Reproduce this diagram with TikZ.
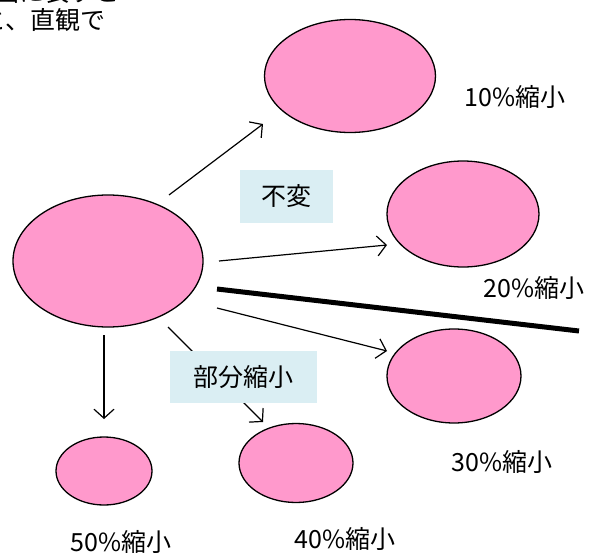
\documentclass[tikz,border=0pt]{standalone}
\usepackage{fontspec}
\setmainfont{Noto Sans CJK JP}
\usetikzlibrary{shapes.geometric,arrows.meta}
\definecolor{pinkfill}{HTML}{FF99CC}
\definecolor{boxfill}{HTML}{DAEEF3}
\tikzset{
  blob/.style={ellipse,draw=black,line width=1.3pt,fill=pinkfill,inner sep=0pt},
  lbl/.style={font=\fontsize{25}{29}\selectfont,inner sep=0pt},
  tagbox/.style={fill=boxfill,font=\fontsize{25}{29}\selectfont,inner sep=0pt},
  conn/.style={line width=1.2pt,-{Straight Barb[length=9pt,width=20pt,line width=1.2pt]}},
}
\begin{document}
\begin{tikzpicture}[x=1pt,y=-1pt]
\useasboundingbox (0,0) rectangle (603,554);
\clip (0,0) rectangle (603,554);
% partial text top-left
\node[lbl,anchor=east] (t1) at (120,-8) {図に表すと};
\node[lbl,anchor=east] (t2) at (106,20) {と、直観で};
% ellipses
\node[blob,minimum width=190pt,minimum height=132pt] (big) at (108,261) {};
\node[blob,minimum width=171pt,minimum height=113pt] (e10) at (350,76) {};
\node[blob,minimum width=152pt,minimum height=106pt] (e20) at (463,214) {};
\node[blob,minimum width=134pt,minimum height=94pt] (e30) at (454,376) {};
\node[blob,minimum width=114pt,minimum height=79pt] (e40) at (296,463) {};
\node[blob,minimum width=96pt,minimum height=68pt] (e50) at (104,471) {};
% arrow endpoints
\coordinate (s10) at (169,195); \coordinate (d10) at (263,124);
\coordinate (s20) at (219,261); \coordinate (d20) at (387,245);
\coordinate (s30) at (217,308); \coordinate (d30) at (387,351);
\coordinate (s40) at (168,327); \coordinate (d40) at (263,422);
\coordinate (s50) at (104,335); \coordinate (d50) at (104,419);
\coordinate (ts) at (217,289); \coordinate (te) at (579,331);
\draw[conn] (s10) -- (d10);
\draw[conn] (s20) -- (d20);
\draw[conn] (s30) -- (d30);
\draw[conn] (s40) -- (d40);
\draw[conn] (s50) -- (d50);
\draw[line width=5pt] (ts) -- (te);
% tag boxes
\node[tagbox,minimum width=93pt,minimum height=53pt] (bu) at (286,196) {不変};
\node[tagbox,minimum width=147pt,minimum height=52pt] (bb) at (243,377) {部分縮小};
% labels
\node[lbl] (l10) at (515,97) {10\%縮小};
\node[lbl] (l20) at (534,288) {20\%縮小};
\node[lbl] (l30) at (502,462) {30\%縮小};
\node[lbl] (l40) at (345,539) {40\%縮小};
\node[lbl] (l50) at (121,542) {50\%縮小};
\end{tikzpicture}
\end{document}
